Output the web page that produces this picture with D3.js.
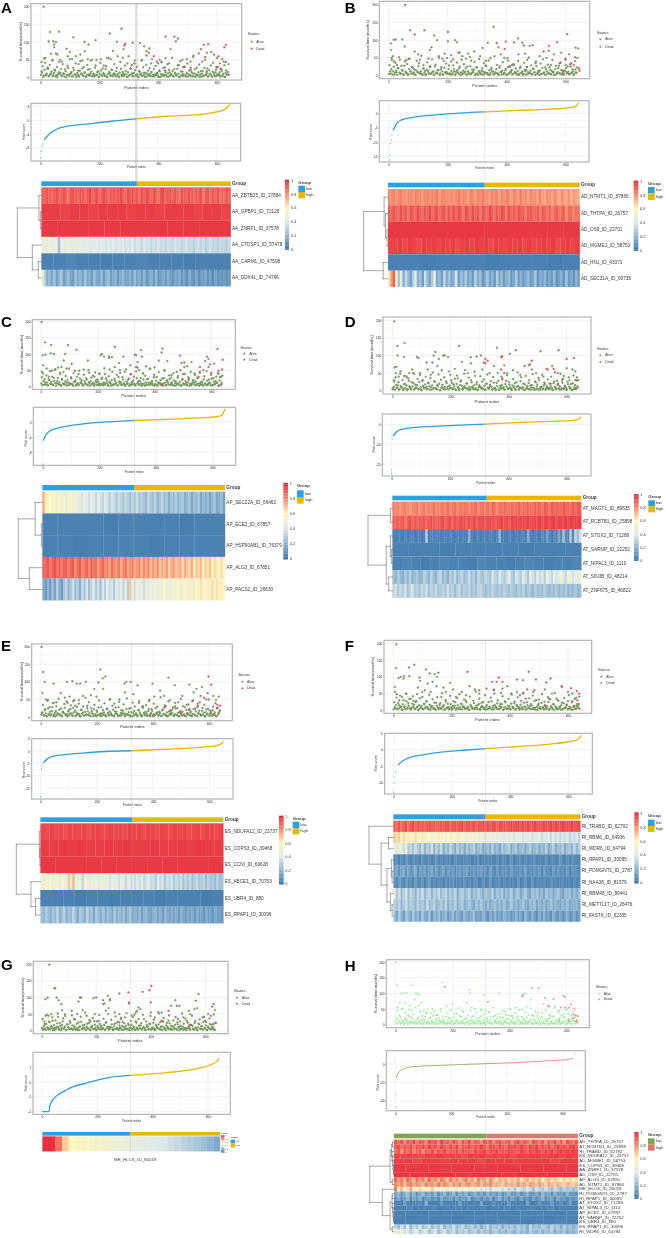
<!DOCTYPE html>
<html><head><meta charset="utf-8">
<script src="https://d3js.org/d3.v7.min.js"></script>
<style>
html,body{margin:0;padding:0;background:#fff;}
svg{display:block;filter:blur(.3px);font-family:"Liberation Sans",Arial,sans-serif;}
</style></head><body><svg id="c" width="666" height="1238"></svg>
<script>
// ---------- DATA (patient index, survival months) ----------
const aliveA=[[10,199],[32,128],[62,129],[111,113],[27,102],[43,102],[52,100],[46,93],[46,85],[88,81],[149,100],[163,93],[187,105],[260,101],[282,80],[313,98],[338,97],[3,44],[12,54],[16,55],[24,28],[35,67],[41,50],[52,68],[57,65],[66,50],[72,45],[92,60],[99,72],[107,52],[120,60],[129,38],[135,65],[142,48],[150,74],[160,52],[170,48],[190,50],[205,52],[215,34],[226,55],[238,52],[246,75],[262,60],[280,56],[295,40],[320,48],[345,50],[352,88],[360,75],[368,70],[376,40],[400,40],[405,50],[412,45],[425,55],[437,40],[442,80],[460,102],[470,35],[482,50],[498,52],[510,45],[520,62],[538,68],[550,45],[565,70],[580,72],[590,65],[600,55],[610,40],[625,35],[630,44]];
const deadA=[[235,124],[275,137],[285,90],[288,95],[310,35],[360,62],[370,82],[385,60],[395,45],[423,20],[425,115],[455,115],[467,110],[485,30],[510,28],[545,80],[560,58],[565,18],[605,60],[617,52],[625,85],[630,92],[640,8],[598,30],[612,25],[570,94],[555,92]];
const lowA=[8,14,3,22,6,11,25,5,9,17,4,13,20,7,2,15,10,24,6,12,3,18,8,27,5,11,16,4,21,9,2,13,7,19,10,26,5,14,3,8,23,6,12,17,4,9,28,7,15,2,11,20,5,13,8,24,3,10,16,6,22,4,12,9,18,7,2,14,25,5,11,8,19,3,15,6,26,10,4,13,21,7,9,2,17,12,5,29,8,14,3,20,6,11,16,4,24,9,7,13,2,18,10,5,27,8,15,3,12,22,6,9,19,4,14,7,25,11,2,17,5,10,30,8,13,3,20,6,16,12,4,24,9,7,15,2,18,11,5,28,8,14,3,21,10,6,17,12,4,23,9,7,15,5,19,11,3,13,8,16];
const midA=[18,32,6,42,10,26,4,36,12,48,7,22,3,30,9,44,14,5,38,11,24,2,33,8,52,13,4,28,10,40,6,20,3,46,12,7,30,15,2,36,9,24,5,50,11,4,34,8,18,3,42,7,26,10,5,32,2,55,13,6,22,9,38,4,28,11,3,44,8,16,5,34,10,2,60,7,25,12,4,40,6,30,3,19,9,48,5,14,2,36,11,7,27,4,52,8,3,33,12,6,20,2,43,10,5,29,7,38,3,15,9,56,4,24,11,6,35,2,46,8,17,5,31,3,40,10,7,22,4,58,12,2,28,6,37,9,3,19,5,50,8,26,4,11,34,2,42,7,15,5,30,10,3,24,6,45,2,20,9,38];
const aliveB=[[56,199],[73,128],[121,128],[154,113],[17,101],[24,102],[46,102],[8,91],[8,72],[54,82],[201,97],[164,100],[225,100],[232,94],[356,138],[336,93],[438,105],[425,94],[488,86],[478,84],[543,70],[642,77],[633,79],[453,93],[10,50],[14,55],[18,40],[28,30],[38,45],[60,44],[68,47],[88,68],[100,60],[106,45],[118,30],[135,48],[140,72],[145,80],[170,55],[182,48],[190,62],[198,50],[212,40],[236,65],[250,55],[262,48],[270,62],[280,42],[290,68],[310,55],[318,78],[330,42],[345,50],[372,80],[380,60],[392,50],[405,42],[418,30],[440,60],[462,62],[470,45],[498,35],[512,55],[535,50],[550,30],[560,60],[585,65],[600,30],[612,60],[640,50]];
const deadB=[[88,116],[201,123],[366,92],[397,96],[393,75],[458,85],[543,84],[571,94],[605,117],[525,68],[241,65],[218,46],[410,25],[580,35],[619,35],[627,30],[645,20],[591,11],[647,14],[468,24],[600,45],[632,52]];
const lowB=[5,12,18,3,25,8,14,2,21,9,6,16,4,28,11,7,2,19,13,5,23,9,3,15,10,27,6,12,4,20,8,2,17,14,5,24,7,11,3,26,9,6,15,2,18,12,4,22,8,10,5,29,3,13,7,19,2,11,16,6,25,9,4,14,8,21,3,12,5,27,7,10,17,2,23,6,13,9,4,20,11,5,28,8,3,15,7,22,12,4,9,18,6,2,26,10,14,5,8,19,3,24,7,11,16,4,30,9,6,13,2,21,8,12,5,17,3,25,10,7,14,4,20,9,2,27,6,11,15,5,22,8,3,18,12,7,24,4,13,9,2,19,6,10,28,5,16,8,3,14,21,7,11,4,26,9,12,5,17,8];
const midB=[30,6,44,12,3,36,9,22,52,5,28,14,2,40,8,33,4,48,11,25,6,18,3,42,10,35,7,56,2,20,13,4,38,9,27,5,46,12,3,31,8,16,50,6,24,2,41,10,34,5,19,7,58,3,29,12,4,37,9,21,2,45,6,32,11,3,26,8,53,4,17,10,39,5,23,2,47,7,14,3,35,9,28,6,43,2,18,12,4,55,8,30,5,22,10,3,38,7,15,2,49,6,27,11,4,33,9,20,3,42,5,25,8,2,36,12,16,4,51,7,29,3,19,10,40,6,13,2,34,5,46,9,24,3,31,7,17,4,44,11,2,28,6,21,8,37,3,15,5,48,10,26,4,32,7,18,2,41,9,23];
const aliveC=[[2,199],[14,136],[35,128],[95,128],[125,113],[6,96],[8,65],[16,98],[34,102],[45,100],[85,100],[80,80],[165,80],[210,96],[215,100],[222,92],[240,92],[240,88],[250,90],[275,72],[330,98],[335,96],[340,75],[352,112],[425,105],[428,117],[415,80],[445,78],[495,72],[530,75],[515,62],[3,45],[20,55],[27,30],[38,48],[48,52],[60,58],[68,42],[72,60],[90,55],[108,70],[120,48],[132,38],[150,52],[170,42],[188,30],[205,40],[225,38],[242,52],[260,60],[278,50],[295,45],[315,65],[345,50],[360,40],[385,55],[400,58],[435,50],[460,35],[478,45],[505,60],[540,40],[560,45],[578,78],[590,60],[610,70],[625,40],[635,30]];
const deadC=[[260,122],[290,92],[318,38],[335,60],[340,58],[355,92],[370,62],[425,5],[490,95],[505,74],[560,60],[572,50],[585,92],[590,85],[595,68],[622,116],[640,82],[625,48],[600,42],[638,52],[555,30],[520,20],[500,38]];
const lowC=[9,4,16,22,6,12,3,19,8,14,5,26,10,2,17,7,13,4,23,9,6,15,3,20,11,5,28,8,2,14,18,6,10,4,24,12,7,3,16,9,21,5,13,2,27,8,11,6,18,4,15,9,3,22,7,12,5,25,10,2,14,8,19,4,6,17,11,3,29,9,13,5,20,7,2,15,10,24,6,4,12,18,8,3,26,11,5,16,9,7,21,2,13,6,23,4,10,14,8,28,3,17,5,12,9,19,7,2,25,11,4,15,6,22,8,13,3,18,10,5,27,7,14,2,20,9,6,16,4,12,24,8,3,11,19,5,15,7,26,2,10,13,6,21,9,4,17,8,12,3,23,5,14,7,30,10,2,18,6,11];
const midC=[28,40,5,12,34,3,22,47,8,30,4,17,52,10,26,6,38,2,20,44,7,32,12,3,55,9,24,5,41,14,2,30,6,48,11,19,3,36,8,25,4,50,10,16,6,33,2,43,12,21,5,38,7,27,3,56,9,18,4,31,11,2,45,6,23,8,35,3,15,42,5,28,10,4,52,7,20,2,37,12,6,30,3,46,9,17,5,26,2,40,8,33,4,22,11,54,6,16,3,36,7,29,2,44,10,5,24,8,48,3,19,12,34,4,27,6,41,2,15,9,32,5,50,3,23,7,38,10,4,28,2,45,6,18,11,35,3,25,8,42,5,14,2,31,7,47,4,21,9,36,3,26,6,16,12,40,2,29,5,33];
const aliveD=[[7,197],[18,127],[42,136],[18,100],[40,96],[8,66],[14,68],[12,50],[90,93],[85,96],[118,80],[138,80],[142,100],[148,110],[160,90],[175,100],[180,100],[192,96],[230,127],[240,82],[270,78],[270,95],[290,97],[305,100],[360,122],[405,105],[385,72],[470,72],[480,60],[510,112],[550,70],[530,62],[600,64],[620,60],[630,55],[5,30],[22,40],[28,55],[40,42],[50,38],[58,50],[68,60],[75,48],[95,50],[105,30],[122,60],[132,45],[155,70],[170,58],[200,45],[215,62],[225,35],[250,58],[260,50],[285,42],[310,60],[335,50],[350,70],[375,40],[395,50],[415,58],[440,45],[455,70],[495,50],[520,40],[570,50],[590,42],[610,30],[635,38]];
const deadD=[[315,80],[320,90],[320,78],[328,85],[375,95],[378,98],[375,60],[385,50],[378,32],[425,115],[480,85],[474,75],[535,60],[572,115],[600,90],[625,93],[560,52],[570,20],[585,30],[640,30],[630,30],[555,62],[545,20]];
const lowD=[6,11,3,17,8,24,4,13,9,2,19,7,15,5,28,10,3,12,21,6,8,16,4,25,9,2,14,7,18,11,5,23,3,10,15,6,27,8,4,13,20,2,9,17,5,11,26,7,3,14,8,22,6,12,4,19,10,2,16,29,5,9,13,7,21,3,11,6,24,8,15,4,18,2,10,12,7,26,5,14,3,20,9,6,17,11,4,23,8,2,13,28,5,10,16,7,3,19,12,6,25,9,4,15,8,21,2,11,14,5,27,7,10,3,18,6,13,22,4,9,16,8,2,24,12,5,30,7,11,3,15,19,6,9,4,20,13,8,2,26,10,5,17,7,12,3,23,6,14,9,4,18,11,8,2,21,5,16,7,13];
const midD=[4,26,38,8,15,3,48,10,30,5,19,42,2,35,12,6,24,50,3,17,9,33,5,44,2,28,11,7,40,4,21,13,36,3,52,8,25,5,16,46,2,31,10,6,38,3,22,12,55,7,29,4,18,34,2,43,9,5,26,14,3,48,8,20,6,37,2,30,11,4,54,7,24,3,16,41,9,5,32,2,19,46,6,12,27,3,39,8,4,22,50,2,14,6,35,10,3,28,44,5,17,7,2,33,12,4,24,52,3,9,38,6,20,2,42,11,5,30,15,3,47,7,26,4,18,36,2,10,45,6,23,3,13,32,8,5,40,2,21,9,4,28,16,3,48,7,34,5,12,2,25,38,6,19,3,43,10,4,29,8];
const aliveE=[[2,199],[8,128],[13,100],[5,68],[45,95],[93,100],[112,102],[128,95],[140,95],[160,100],[205,98],[212,135],[220,110],[230,115],[298,95],[305,100],[320,100],[345,90],[398,95],[455,112],[478,90],[530,92],[555,80],[575,85],[18,50],[25,48],[45,40],[55,42],[70,68],[85,55],[95,40],[102,58],[115,45],[122,32],[135,48],[150,60],[165,32],[178,62],[190,80],[198,58],[222,80],[245,50],[262,38],[280,50],[300,70],[330,65],[350,40],[362,30],[385,45],[405,58],[425,75],[440,60],[460,48],[490,42],[505,60],[520,35],[545,70],[560,38],[590,50],[615,60],[625,48],[635,58]];
const deadE=[[598,115],[608,92],[595,68],[570,60],[582,55],[530,22],[445,30],[462,18],[478,30],[560,32],[618,8],[628,25],[640,32],[630,35],[605,18],[540,45],[390,5],[500,12]];
const lowE=[7,13,4,19,10,2,24,6,15,8,28,3,12,17,5,9,21,7,2,14,11,26,4,8,16,6,23,10,3,13,18,5,29,9,7,2,20,12,4,15,8,25,6,11,3,17,9,22,5,2,14,27,7,10,4,19,13,6,3,24,8,16,11,5,21,2,9,15,7,28,4,12,6,18,10,3,23,8,14,5,26,2,11,17,7,9,4,20,13,6,3,30,8,15,10,5,22,2,12,18,7,4,25,9,14,6,11,3,19,8,27,5,13,2,16,10,7,21,4,9,24,6,12,3,17,8,15,5,28,2,11,7,20,13,4,9,23,6,16,3,10,18,8,5,26,12,2,14,7,22,4,11,9,19,6,13,3,25,8,15];
const midE=[12,34,5,22,3,46,9,28,4,17,40,7,2,31,11,52,6,24,3,15,37,8,44,2,19,10,33,5,26,48,3,13,7,38,2,21,9,30,4,55,6,16,42,3,25,11,2,35,8,18,5,47,3,28,10,6,39,2,22,12,4,50,7,32,3,16,27,9,2,43,5,20,11,36,3,8,53,6,24,2,14,41,4,30,10,3,19,45,7,2,26,12,5,34,3,17,49,8,23,2,38,6,11,29,4,15,56,3,21,9,33,5,2,44,7,18,12,27,3,40,6,25,2,13,52,4,31,8,3,20,10,36,5,16,2,47,7,24,3,28,11,42,4,18,6,35,2,22,9,50,5,14,3,30,7,39,2,26,12,19];
const aliveF=[[10,197],[9,126],[54,128],[72,136],[18,96],[25,100],[35,95],[37,102],[55,102],[90,98],[92,88],[112,122],[118,80],[125,110],[142,108],[150,100],[155,112],[5,70],[6,55],[12,48],[20,30],[30,40],[45,50],[60,35],[70,28],[82,48],[85,68],[100,40],[108,60],[128,55],[135,85],[148,72],[165,40],[172,68],[180,55],[195,82],[205,62],[215,40],[235,55],[250,45],[262,72],[280,62],[295,50],[320,65],[345,62],[370,52],[375,65],[392,72],[405,50],[425,55],[445,90],[435,45],[460,62],[480,55],[500,32],[520,62],[545,50],[560,35],[580,70],[600,55],[615,50],[628,38]];
const deadF=[[255,115],[340,85],[295,60],[345,60],[355,85],[362,98],[375,85],[465,115],[490,92],[485,60],[425,92],[445,50],[455,35],[540,95],[525,83],[578,72],[610,66],[630,58],[638,50],[632,30],[640,5],[600,28],[535,35],[520,15],[620,12]];
const lowF=[3,9,16,5,22,7,12,2,18,10,4,27,8,14,6,3,20,11,5,25,9,2,15,7,13,4,19,6,28,10,3,17,8,12,5,23,2,14,9,6,21,4,11,16,3,26,7,10,5,18,2,13,8,24,6,15,4,9,20,3,12,7,29,5,11,2,17,10,6,22,8,14,3,19,4,9,13,25,7,2,16,5,11,6,27,8,3,15,10,21,4,12,7,18,2,9,24,5,14,6,3,20,11,8,26,4,13,7,2,17,10,5,23,9,3,15,6,12,19,4,8,28,2,11,16,7,5,22,10,3,14,9,6,25,4,13,8,18,2,12,7,30,5,10,15,3,21,6,9,17,4,11,8,24,2,14,5,13,7,19];
const midF=[24,6,38,3,15,44,9,2,30,12,50,5,21,34,3,8,42,17,4,28,11,2,36,7,55,3,19,10,26,5,46,2,13,33,8,4,23,40,3,16,6,52,11,2,31,7,20,3,43,9,5,27,14,2,37,6,48,3,18,10,32,4,24,8,2,41,12,5,29,3,56,7,16,35,2,22,9,4,45,11,3,25,6,38,2,14,50,8,5,30,3,19,10,42,2,27,7,4,34,12,3,47,6,21,2,16,39,9,5,28,3,53,11,2,24,7,36,4,15,44,3,8,31,2,20,10,5,48,6,26,3,13,40,2,33,9,4,18,52,7,3,29,11,2,23,5,37,8,16,3,45,6,2,27,10,34,4,19,12,41];
const aliveG=[[28,199],[46,128],[50,128],[22,100],[14,95],[55,100],[62,92],[72,80],[140,100],[145,100],[135,88],[190,98],[200,100],[225,80],[230,82],[243,105],[250,95],[285,112],[285,50],[320,82],[330,45],[350,60],[355,70],[362,65],[490,92],[430,52],[475,75],[495,75],[505,75],[560,65],[570,68],[575,110],[625,72],[630,80],[635,62],[10,28],[15,45],[25,45],[35,50],[40,30],[60,42],[75,62],[85,50],[110,60],[118,35],[130,50],[150,62],[165,45],[178,28],[195,50],[210,30],[235,60],[245,68],[268,55],[290,35],[305,40],[340,48],[345,55],[375,35],[400,55],[415,40],[440,55],[465,30],[520,40],[540,60],[545,50],[590,40],[610,50]];
const deadG=[[225,92],[250,92],[318,115],[320,85],[370,117],[395,122],[402,135],[400,85],[465,60],[500,35],[565,90],[542,18],[620,45],[600,30],[630,20],[285,25],[440,30]];
const lowG=[8,3,14,6,20,10,4,26,7,12,2,17,9,5,22,11,3,15,8,28,6,13,2,19,10,4,24,7,16,5,11,3,21,9,2,13,27,6,8,18,4,12,7,23,3,10,15,5,29,9,2,14,6,20,11,4,8,17,3,25,7,12,5,10,19,2,13,6,22,9,4,16,8,3,26,11,7,14,5,21,2,10,18,6,12,4,28,9,3,15,7,23,5,11,8,2,17,13,6,20,4,10,24,7,3,14,9,19,5,12,2,27,8,6,16,11,4,22,7,3,13,10,18,5,25,9,2,15,6,12,21,4,8,30,7,11,3,17,14,5,23,9,2,10,19,6,13,4,26,8,16,3,12,7,20,5,11,9,2,24];
const midG=[35,6,20,3,48,9,27,4,14,40,7,2,31,11,52,5,23,3,17,37,8,44,2,19,10,29,5,46,3,13,34,6,2,25,12,42,4,16,8,55,3,21,7,32,2,11,38,5,18,3,28,9,47,4,15,6,36,2,24,10,50,3,12,33,7,2,20,43,5,27,3,9,39,14,2,22,6,53,4,17,8,30,3,41,11,2,25,5,35,7,16,3,48,9,2,28,12,4,21,44,3,6,33,2,18,10,56,5,26,3,13,38,7,2,23,9,46,4,15,3,31,6,41,2,19,11,28,5,52,3,8,36,2,24,12,4,17,45,6,3,29,9,2,21,34,5,14,3,42,7,26,2,11,37,4,18,6,49,3,23];
const aliveH=[[2,199],[6,126],[60,126],[165,135],[20,100],[30,100],[40,102],[72,100],[78,98],[85,95],[260,112],[262,100],[310,95],[365,100],[455,100],[475,80],[8,55],[15,70],[25,50],[35,68],[45,30],[50,60],[58,45],[68,80],[82,60],[92,70],[100,45],[110,40],[125,38],[130,50],[145,30],[160,42],[180,60],[200,65],[215,35],[235,45],[252,70],[268,55],[280,50],[300,48],[315,45],[330,40],[350,30],[372,35],[385,42],[405,28],[425,55],[445,48],[460,58],[480,30],[500,40],[520,65],[540,30],[560,60],[575,45],[590,35],[605,50],[618,30]];
const deadH=[[173,121],[325,73],[445,90],[448,95],[480,116],[503,116],[525,85],[555,82],[535,60],[540,58],[590,92],[595,88],[580,55],[595,55],[610,55],[617,65],[628,50],[625,33],[632,30],[640,27],[635,12],[640,8],[575,15],[625,20],[608,12]];
const lowH=[10,3,16,7,24,5,12,2,19,8,14,4,27,9,6,20,11,3,15,5,22,8,2,13,17,6,25,4,10,7,18,3,12,29,5,9,14,2,21,6,11,8,16,4,26,3,13,7,19,10,2,23,5,15,9,6,28,4,12,8,17,3,20,7,11,2,14,24,5,10,6,18,3,13,9,27,4,15,7,2,21,11,5,16,8,3,25,12,6,19,10,4,14,2,22,7,9,17,5,30,3,13,8,20,6,11,4,26,15,2,10,7,18,3,12,23,5,9,16,6,2,28,14,8,4,19,11,3,24,7,13,5,17,10,2,21,6,12,4,27,9,15,3,8,20,5,11,7,25,2,14,6,18,10,3,22,13,4,9,16];
const midH=[22,44,8,30,3,52,12,5,38,16,2,47,9,26,4,33,7,55,3,20,11,41,5,28,2,14,36,8,49,3,24,10,6,43,2,18,31,5,13,50,3,27,9,2,37,6,22,4,46,12,3,34,7,16,2,53,10,25,4,40,3,19,8,30,2,45,6,13,28,3,38,11,5,21,2,48,7,33,3,17,10,42,4,26,2,55,9,15,5,35,3,23,7,44,2,12,30,6,18,3,50,8,27,4,36,2,20,11,47,5,25,3,14,39,7,2,31,9,52,4,17,3,43,6,28,2,10,22,37,5,3,46,12,19,2,33,7,26,4,54,3,15,40,8,2,29,5,21,10,48,3,35,6,16,2,42,11,24,4,30];
// ---------- DATA (ordered risk score) ----------
const curveA=[[12,-5.7],[32,-3.8],[54,-2.6],[88,-1.8],[156,-1.1],[247,-.2],[325,.4],[429,1.2],[542,1.7],[599,2.5],[627,3.2],[638,4.2],[644,4.6]];
const tailA=[[0,-11],[2,-9.1],[5,-7.6],[7,-6.9]];
const curveB=[[15,-6],[26,-3.7],[43,-2.3],[82,-1.4],[150,-.6],[241,.1],[325,.5],[433,1],[546,1.5],[614,2],[636,2.6],[644,3.8]];
const tailB=[[3,-16.3],[3,-14.7],[6,-10.5],[9,-9.3],[11,-7.6]];
const curveC=[[1,-5],[7,-3.9],[21,-2.6],[48,-1.7],[84,-1.1],[154,-.4],[249,.1],[323,.4],[437,.7],[555,1.1],[614,1.4],[634,1.8],[641,2.8],[645,3.5]];
const tailC=[[0,-11.2]];
const curveD=[[5,-5.8],[16,-3.7],[33,-2.4],[73,-1.5],[142,-.9],[233,-.2],[322,.3],[427,1],[542,1.7],[622,2.2],[642,2.9],[649,4.1]];
const tailD=[[0,-24.9],[0,-23.2],[2,-7.3]];
const curveE=[[9,-4.8],[24,-3.2],[45,-2.1],[93,-1.4],[164,-.7],[247,-.1],[324,.1],[448,.7],[567,1.5],[626,2.2],[644,3],[649,4]];
const tailE=[[0,-18.5],[3,-7.1],[6,-5.8]];
const curveF=[[15,-4.7],[32,-3.4],[55,-2.4],[101,-1.6],[170,-.7],[250,-.1],[316,.3],[422,.9],[536,1.7],[605,2.5],[633,3.2],[645,4.4]];
const tailF=[[0,-13],[1,-10.2],[2,-8.3],[6,-6.8]];
const curveG=[[0,-2.02],[25,-2.02],[29,-1.57],[47,-1.05],[77,-.66],[113,-.32],[161,-.07],[246,.32],[319,.45],[451,.64],[547,.86],[607,1.16],[631,1.39],[640,1.61]];
const tailG=[[643,1.82]];
const curveH=[[2,-15.7],[10,-10.2],[27,-5.8],[63,-2.9],[135,-1.8],[231,-.7],[324,.4],[434,1.5],[553,3.6],[613,4.7],[637,6.2]];
const tailH=[[0,-47.4],[1,-32.8],[643,11.7]];
// ---------- DATA (gene labels, PSI in percent by ordered patient) ----------
const genesA=["AA_ZBTB25_ID_27884","AA_GPBP1_ID_72126","AA_ZNRF1_ID_37578","AA_CTDSP1_ID_57478","AA_CARM1_ID_47598","AA_DDX41_ID_74796"];
const heatA=[
[91,89,93,90,87,92,94,88,91,93,89,86,92,94,90,88,93,91,87,92,95,89,91,93,88,90,94,92,87,91,93,89,92,95,90,88,93,91,94,89,92,87,93,90,94,91,88,93,90,86,92,95,89,91,93,88,92,90,85,93,91,88,94,90,87,92,89,93,84,90,92,87,91,88,93,85,90,87,92,89],
[97,97,96,97,97,96,97,97,97,96,97,97,96,97,97,97,96,97,97,96],
[98,98,98,98,98,98,98,98,98,98,98,98],
[47,47,46,47,46,46,45,24,44,45,43,44,45,42,44,43,42,44,41,43,40,42,41,43,39,41,42,38,41,39,42,37,40,38,41,36,39,38,40,35,39,37,34,39,36,38,33,37,35,38,34,36,32,37,35,33,38,34,36,32,35,37,33,35,31,34,36,32,35,30,34,36,32,34,30,35,31,33,30,34],
[4,4,5,4,4,3,4,4,5,4,4,4,3,4,4,4],
[50,30,18,22,16,24,14,20,26,13,18,22,15,12,24,17,20,13,26,15,18,12,22,16,14,21,12,19,24,13,16,20,11,17,22,13,15,19,11,23,14,17,12,20,10,15,18,12,21,10,14,17,11,19,13,9,16,12,18,10,14,8,16,12,10,15,8,13,11,16,9,12,7,14,10,12,8,13,9,11],
];
const treeA=[1,[.1,0,[.04,1,2]],[.375,3,[.125,4,5]]];
const genesB=["AD_NTMT1_ID_87866","AD_THTPA_ID_26757","AD_OS9_ID_22701","AD_MGME1_ID_58753","AD_HN1_ID_43371","AD_SEC31A_ID_69735"];
const heatB=[
[81,80,82,79,81,83,80,78,82,81,79,83,80,82,78,81,83,79,82,80,84,78,81,83,80,79,82,78,81,84,79,82,80,77,83,81,78,82,80,84,79,81,77,83,80,82,78,81,79,83,80,77,82,80,78,83,79,81,76,82,79,80,77,82,78,75,81,79,76,82,78,74,80,77,75,79,73,78,76,74],
[91,88,93,90,87,94,89,92,86,93,90,88,94,91,86,92,89,95,88,91,93,87,90,94,86,92,89,93,88,95,90,86,93,91,87,94,89,92,85,93,90,88,95,91,86,92,88,94,90,85,93,89,91,86,94,88,92,84,90,93,87,89,91,83,92,88,86,90,82,89,91,85,88,90,80,87,89,83,86,88],
[98,98,98,98,98,98,98,98,98,98,98,98],
[96,96,97,95,97,96,94,97,96,97,95,97,96,97,94,96,97,95,97,96,97,94,97,96,95,97,96,97,94,97,95,96,97,95,97,94,96,97,95,97],
[4,4,3,4,4,4,3,4,4,4,3,4],
[62,78,90,56,26,44,18,34,22,14,30,42,18,24,12,36,20,15,28,46,16,22,13,32,18,26,14,20,38,12,24,16,28,14,20,12,30,18,24,11,16,26,14,20,10,30,15,22,12,18,24,11,16,28,13,20,10,17,23,12,15,26,10,18,13,22,9,16,12,20,9,14,18,10,24,12,16,9,20,13],
];
const treeB=[1,[.16,0,[.1,1,[.04,2,3]]],[.2,4,5]];
const genesC=["AP_SEC22A_ID_66462","AP_ECE2_ID_67857","AP_HSP90AB1_ID_76379","AP_ALG3_ID_67851","AP_PACS2_ID_26630"];
const heatC=[
[76,62,56,60,54,58,52,56,50,54,48,52,56,46,50,44,48,38,46,42,36,44,40,34,42,38,32,40,36,30,38,34,28,36,32,26,34,30,24,32,28,36,24,30,26,22,32,28,24,30,20,26,32,22,28,18,26,22,30,20,24,28,18,22,26,16,24,20,28,16,22,18,24,14,20,26,16,18,22,14],
[4,4,4,4,3,4,4,4,4,3,4,4],
[4,4,3,4,4,4,4,3,4,4,4,4],
[90,88,92,86,90,93,87,91,85,89,92,84,88,91,83,87,90,82,86,89,80,92,84,87,78,85,88,80,84,76,86,82,78,85,74,82,86,76,80,84,74,78,83,72,80,76,82,70,78,74,80,68,76,72,78,66,74,78,68,72,76,64,74,70,66,74,62,70,66,72,60,68,64,70,60,66,62,58,66,60],
[16,12,20,10,24,14,30,18,12,26,32,20,28,36,22,30,18,34,26,38,24,32,42,28,36,24,40,30,44,34,38,28,42,36,46,32,40,30,70,44,38,50,42,46,36,48,40,52,44,50,42,54,46,58,48,52,44,56,50,60,46,54,58,50,62,54,48,60,56,64,52,58,62,54,66,58,64,56,62,60],
];
const treeC=[1,[.3,0,[.04,1,2]],[.54,3,4]];
const genesD=["AT_MAGT1_ID_89535","AT_RCBTB1_ID_25898","AT_STOX2_ID_71289","AT_SARNP_ID_22252","AT_NIPAL3_ID_1110","AT_SIN3B_ID_48214","AT_ZNF675_ID_46822"];
const heatD=[
[84,80,83,78,82,85,80,77,83,81,84,79,82,85,80,83,81,86,80,84,82,85,83,87,81,84,86,82,85,83,87,84,81,86,84,88,82,85,87,83,86,84,88,85,83,87,85,89,84,86,88,85,87,90,84,88,86,89,87,85,90,87,89,86,91,88,86,90,88,91,87,89,92,88,90,87,91,89,92,90],
[90,88,91,89,92,87,90,93,89,91,88,92,90,93,89,91,94,90,88,92,91,94,90,92,95,89,93,91,94,92,95,90,93,92,95,91,94,93,96,92,94,96,93,91,95,94,96,93,95,92,96,94,97,93,95,96,94,97,95,93,96,95,97,94,96,97,95,96,97,94,96,97,95,97,96,97,95,97,96,97],
[4,3,4,4,3,4,3,5,4,3,4,4,3,4,28,3,4,4,5,3,4,4,3,4,5,3,4,4,3,5,3,4,20,4,3,4,5,3,4,4,3,4,5,3,4,22,3,4,3,5,4,3,4,3,6,4,3,18,4,3,5,4,3,6,4,14,5,3,7,4,16,5,24,8,5,28,6,32,24,36],
[4,4,4,3,4,4,4,4,3,4,4,4],
[4,5,4,3,4,5,4,4,3,5,4,4,3,4,5,4,3,4,4,5],
[24,20,28,22,18,26,21,30,19,24,28,18,22,30,25,20,31,24,20,28,33,22,26,19,30,24,34,21,28,32,22,26,36,24,30,21,33,27,24,35,29,25,38,31,27,40,33,28,36,42,30,26,38,33,29,41,35,28,43,37,31,45,34,40,30,46,38,33,47,36,42,48,38,34,50,44,38,46,42,48],
[32,36,28,34,29,37,26,33,38,28,31,25,34,29,36,26,31,27,34,24,29,32,25,36,27,31,24,29,34,25,30,27,33,24,29,26,31,34,27,24,29,25,32,27,23,29,25,31,27,24,30,26,22,29,25,31,23,28,26,21,29,24,27,22,30,25,20,27,23,28,21,26,23,28,20,25,22,27,21,24],
];
const treeD=[1,[.08,0,1],[.25,[.08,2,[.03,3,4]],[.15,5,6]]];
const genesE=["ES_NDUFA12_ID_23737","ES_COPS3_ID_39468","ES_CCNI_ID_69628","ES_ABCE1_ID_70753","ES_UBR4_ID_880","ES_RPAP1_ID_30096"];
const heatE=[
[95,94,96,94,95,93,96,95,94,96,93,95,96,94,95,96,94,95,93,96,95,96,94,96,95,93,96,95,94,96,95,96,93,95,96,94,96,95,94,96],
[97,97,98,97,98,97,97,98,97,98,97,97,98,97,97,98,97,98,97,97],
[98,98,98,98,98,98,98,98,98,98,98,98],
[50,46,56,48,60,44,52,54,46,58,50,46,70,48,74,52,44,50,32,54,46,42,50,44,48,40,50,46,42,48,38,46,42,44,36,46,40,34,44,38,42,34,40,36,44,32,38,42,34,36,30,40,34,38,28,36,32,38,28,34,30,36,26,32,28,34,24,30,34,26,28,32,24,30,26,28,22,30,24,26],
[4,4,4,3,4,4,3,4,4,4,3,4,4,4,3,4],
[26,20,29,23,18,27,21,31,19,24,29,18,26,21,32,23,17,27,24,19,31,21,26,16,28,22,19,26,17,24,21,15,28,19,23,17,25,15,21,26,17,19,15,23,14,19,21,15,13,18,22,14,19,12,21,16,13,19,14,17,12,20,15,11,18,14,16,11,18,13,15,10,17,12,14,10,16,12,14,10],
];
const treeE=[1,[.04,0,[.02,1,2]],[.39,3,[.2,4,5]]];
const genesF=["RI_TRABD_ID_62792","RI_RBM6_ID_64936","RI_WDR6_ID_64794","RI_RPAP1_ID_30095","RI_POMGNT1_ID_2787","RI_NAA38_ID_81579","RI_RBM48_ID_80441","RI_METTL17_ID_26476","RI_FASTK_ID_62335"];
const heatF=[
[90,87,92,88,90,93,87,91,94,88,92,90,93,87,91,94,89,92,90,88,93,90,92,94,88,91,93,90,92,95,89,92,94,90,93,90,92,91,95,90,93,91,94,92,90,94,92,93,90,92,95,91,93,96,90,94,92,95,91,93,96,92,94,91,95,93,91,96,93,95,92,94,96,93,95,92,96,94,92,95],
[70,64,68,60,66,58,63,56,61,66,54,59,63,52,57,60,50,58,55,62,52,57,53,60,50,55,58,48,53,57,51,46,55,51,48,53,44,51,48,42,51,46,44,49,41,47,44,39,46,42,49,38,44,41,47,37,43,40,46,36,42,39,45,35,41,38,43,34,40,36,42,33,39,36,41,32,38,34,40,31],
[50,40,48,44,36,52,28,34,24,36,28,22,34,20,29,25,37,19,30,23,34,18,27,21,32,25,17,30,21,27,16,29,19,25,31,17,23,27,15,21,25,17,29,19,23,15,27,21,25,30,17,23,28,15,21,26,16,24,29,18,22,27,15,24,20,28,16,23,30,18,25,21,29,17,24,27,20,31,22,28],
[6,9,4,7,5,11,6,4,8,5,7,4,9,6,5,7,4,6,10,5,7,4,8,5,6,4,9,5,7,4,6,9,5,4,7,5,8,4,6,5,8,4,6,5,7,4,8,5,4,6,9,4,6,5,8,4,6,5,7,4,9,5,4,6,5,8,4,7,5,4,6,9,5,4,7,5,8,4,6,5],
[12,16,9,14,18,10,15,9,12,17,8,13,10,15,8,12,17,9,14,8,11,15,8,13,9,14,7,11,14,8,12,15,7,10,13,7,11,14,8,10,7,13,9,7,12,7,10,8,11,7,13,8,10,6,12,8,14,7,10,6,12,8,11,6,13,7,9,6,11,8,12,6,9,7,11,6,10,7,9,6],
[9,5,13,8,5,11,6,9,4,12,7,5,10,4,8,11,5,7,4,10,6,4,9,5,7,11,4,6,8,4,10,5,6,4,9,7,4,5,8,4,6,10,4,7,5,9,4,6,5,8,4,7,5,10,4,6,8,4,5,9,4,7,4,6,8,4,5,10,4,7,5,4,8,5,4,7,4,6,5,7],
[46,28,36,24,30,38,22,34,27,20,32,25,36,22,28,33,20,30,25,35,22,27,32,20,28,24,33,18,27,30,22,25,32,18,27,22,30,24,16,28,23,20,30,18,25,22,28,16,23,20,29,17,24,27,16,22,28,19,15,25,21,27,17,23,15,26,20,24,15,22,27,18,14,24,20,25,16,22,18,24],
[30,25,33,21,28,35,23,30,26,20,32,24,28,21,34,23,27,30,19,25,28,21,32,18,26,23,30,19,25,28,18,23,26,21,16,25,19,28,21,17,25,16,21,26,17,23,19,25,16,21,27,18,23,15,21,26,18,15,23,19,25,15,21,17,24,14,20,26,16,22,18,14,23,18,24,15,20,17,22,15],
[24,15,29,18,13,26,20,15,27,16,22,13,26,18,15,24,11,20,16,25,13,18,22,11,16,24,13,20,15,11,22,16,13,18,25,11,16,13,20,15,9,18,13,22,11,16,13,20,15,18,10,14,21,12,17,9,20,14,11,18,13,8,17,12,20,10,15,8,18,13,10,16,9,14,18,10,12,16,9,14],
];
const treeF=[1,0,[.5,[.2,1,2],[.26,[.08,3,[.05,4,5]],[.12,6,[.05,7,8]]]]];
const genesG=["ME_HLCS_ID_90019"];
const heatG=[[100,100,86,68,60,58,56,55,54,52,50,48,47,45,44,42,41,40,39,36,34,31,29,27,24,20,16]];
const genesH=["AD_THTPA_ID_26757","AT_RCBTB1_ID_25898","RI_TRABD_ID_62792","ES_NDUFA12_ID_23737","AD_MGME1_ID_58753","ES_COPS3_ID_39468","AA_ZNRF1_ID_37578","AD_OS9_ID_22701","AP_ALG3_ID_67851","AD_NTMT1_ID_87866","ME_HLCS_ID_90019","RI_POMGNT1_ID_2787","RI_RPAP1_ID_30095","AT_STOX2_ID_71289","AT_NIPAL3_ID_1110","AP_ECE2_ID_67857","AT_SARNP_ID_22252","ES_UBR4_ID_880","ES_RPAP1_ID_30096","RI_WDR6_ID_64794"];
const heatH=[
[92,86,94,82,93,88,95,85,92,90,80,94,88,92,83,95,87,90,85,94,88,81,92,86,95,83,90,88,78,94,86,92,81,90,94,85,88,92,80,90,93,84,90,87,79,93,89,85,92,80,91,86,94,82,90,78,92,88,84,92],
[91,94,87,92,89,95,85,92,90,94,87,96,88,92,85,95,90,87,94,88,96,85,92,90,95,87,92,88,96,90,85,94,92,88,96,90,87,95,92,94,89,96,91,87,94,90,96,88,93,90,95,87,92,96,90,94,88,93,96,91],
[86,92,80,90,87,94,83,88,92,81,90,87,94,85,92,88,95,87,92,90,94,88,95,90,92,87,95,90,93,96,88,94,92,96,90,94,92,96,94,92,90,96,93,88,95,92,96,94,91,96,93,97,92,95,97,93,96,94,97,95],
[96,95,97,96,94,97,95,97,95,97,96,94,97,95,97,95,97,96,97,94,97,95,97,96,95,97,97,95,97,96],
[97,97,95,97,97,96,97,97,97,95,97,97,97,96,97,97,97,95,97,97],
[98,97,98,98,97,98,98,97,98,98,97,98,98,98,97,98],
[98,98,98,98,97,98,98,98,98,98,98,97,98,98,98,98],
[99,98,99,99,98,99,99,98,99,98,99,99],
[88,78,85,74,90,80,72,87,76,84,70,88,75,82,72,85,78,68,84,73,80,70,76,84,72,78,66,82,73,76,68,80,72,64,76,69,73,66,72,67,76,62,70,74,64,71,66,73,60,68,72,63,70,65,60,68,62,66,60,64],
[81,76,83,73,80,85,75,81,78,72,83,76,80,73,85,75,81,78,70,80,75,83,72,78,81,73,76,80,70,78,75,81,72,76,73,68,78,72,75,70,80,72,76,68,78,74,70,77,72,66,76,73,68,75,70,65,74,70,66,72],
[84,62,72,52,64,74,50,58,66,53,62,48,68,54,46,60,50,44,56,62,42,52,47,58,40,50,45,54,38,48,43,32,46,39,44,35,41,32,37,28,42,36,30,40,34,26,38,32,28,36,30,24,34,28,22,32,26,30,24,28],
[15,21,11,18,24,12,20,9,16,22,11,18,12,21,9,16,20,11,14,22,9,18,12,20,9,14,21,11,16,9,20,12,16,11,18,9,14,20,11,12,18,9,14,20,10,13,17,9,22,12,15,8,18,11,14,9,20,11,13,9],
[10,16,8,13,20,7,15,10,18,7,12,16,8,14,6,18,10,12,15,6,16,8,14,10,20,6,12,15,8,14,10,16,6,12,18,8,14,6,15,10,7,17,9,13,6,15,8,12,19,7,11,14,6,16,9,12,7,14,10,13],
[4,4,3,14,4,3,4,4,5,3,20,4,4,3,4,11,4,3,4,4,3,13,4,4,3,4,5,4,16,3,4,4,9,3,4,4,5,11,3,4,4,5,3,15,4,3,4,9,4,3,5,12,4,3,8,4,6,14,4,7],
[4,4,5,3,4,4,6,3,4,4,5,3,4,4,6,3,4,4,5,3,4,4,6,3,4,5,3,4,4,4],
[4,4,3,4,4,4,3,4,4,4,3,4,4,4,3,4],
[4,3,4,4,4,3,4,4,4,3,4,4,4,3,4,4],
[4,4,4,3,5,4,4,3,4,5,4,3,4,4,5,4],
[32,24,37,27,41,22,34,28,39,25,30,36,23,32,27,37,21,30,25,36,23,28,34,21,27,32,23,30,19,27,34,21,28,25,30,19,27,23,28,21,31,24,28,19,33,23,27,20,29,25,19,31,23,27,18,29,21,26,19,24],
[56,42,50,36,44,30,38,46,28,36,42,26,34,40,24,32,38,25,30,36,22,30,27,34,23,28,32,22,30,25,28,19,27,30,21,25,19,28,23,19,29,22,26,18,30,24,20,27,18,25,22,29,17,24,20,27,16,23,19,25],
];
const treeH=[1,[.16,[.1,[.06,0,1],[.08,2,[.05,3,[.04,4,[.03,5,[.02,6,7]]]]]],[.07,8,9]],[.48,10,[.16,[.08,[.07,11,12],[.05,13,[.04,14,[.03,15,[.02,16,17]]]]],[.07,18,19]]]];
const tickLabels={months:[0,50,100,150,200],patients:[0,200,400,600],legend:[1,.8,.6,.4,.2,0]};
const statusLabels=["Alive","Dead"], groupLabels=["low","high"];
// ---------- LAYOUT: positions are in 3x crop units of each panel's quadrant ----------
const panels=[
{n:"A",ox:0,oy:0,lx:3,ly:40,alive:aliveA,dead:deadA,low:lowA,mid:midA,curve:curveA,tail:tailA,med:325,genes:genesA,heat:heatA,tree:treeA,rt:[4,0,-4,-8],
 s:[93,725,11,240],sx:[122,651],sy:[233,19],leg:[743,103,755,125,769,146],xl:[409,264],yl:[62,125],ml:[409,10,545,8,.3],
 r:[93,722,310,483],rx:[122,651],ry:[361,320],rr:[0,4],rl:[409,500],ryl:[72,395],
 h:[124,692,544,558,562,859],root:52,cb:[855,867,543,749,873],g:[895,548,557,576,595,918]},
{n:"B",ox:333,oy:0,lx:35,ly:38,alive:aliveB,dead:deadB,low:lowB,mid:midB,curve:curveB,tail:tailB,med:325,genes:genesB,heat:heatB,tree:treeB,rt:[0,-5,-10,-15],
 s:[139,770,4,236],sx:[167,698],sy:[227,14],leg:[791,98,802,118,817,140],xl:[455,259],yl:[105,120],ml:[455,4,861,2,.35],
 r:[139,768,302,486],rx:[167,698],ry:[340,383],rr:[0,-5],rl:[455,505],ryl:[114,395],
 h:[165,740,548,562,567,861],root:92,cb:[902,916,546,752,921],g:[945,551,561,580,600,968]},
{n:"C",ox:0,oy:310,lx:3,ly:52,alive:aliveC,dead:deadC,low:lowC,mid:midC,curve:curveC,tail:tailC,med:323,genes:genesC,heat:heatC,tree:treeC,rt:[0,-4,-8],
 s:[97,706,29,238],sx:[123,634],sy:[229,35],leg:[721,113,733,131,748,149],xl:[401,258],yl:[65,133],ml:[403,29,875,2,.35],
 r:[100,707,292,466],rx:[129,637],ry:[336,381],rr:[0,-4],rl:[403,487],ryl:[79,385],
 h:[127,675,525,541,545,871],root:55,cb:[850,864,523,748,869],g:[891,528,541,561,581,915]},
{n:"D",ox:333,oy:310,lx:35,ly:52,alive:aliveD,dead:deadD,low:lowD,mid:midD,curve:curveD,tail:tailD,med:322,genes:genesD,heat:heatD,tree:treeD,rt:[0,-10,-20],
 s:[150,774,21,252],sx:[178,701],sy:[242,31],leg:[791,116,802,136,817,156],xl:[462,275],yl:[118,135],ml:[458,21,865,2,.35],
 r:[148,774,312,498],rx:[176,701],ry:[344,403],rr:[0,-10],rl:[458,518],ryl:[122,403],
 h:[178,745,557,571,575,863],root:105,cb:[903,917,556,752,922],g:[946,561,571,589,607,968]},
{n:"E",ox:0,oy:630,lx:3,ly:62,alive:aliveE,dead:deadE,low:lowE,mid:midE,curve:curveE,tail:tailE,med:324,genes:genesE,heat:heatE,tree:treeE,rt:[5,0,-5,-10,-15],
 s:[95,697,42,272],sx:[123,627],sy:[261,50],leg:[715,134,727,155,741,175],xl:[397,291],yl:[65,155],ml:[395,42,878,2,.35],
 r:[95,699,326,507],rx:[122,628],ry:[363,400],rr:[0,-5],rl:[397,526],ryl:[72,420],
 h:[121,670,562,576,580,880],root:49,cb:[837,851,561,763,856],g:[878,566,575,595,613,901]},
{n:"F",ox:333,oy:630,lx:35,ly:62,alive:aliveF,dead:deadF,low:lowF,mid:midF,curve:curveF,tail:tailF,med:316,genes:genesF,heat:heatF,tree:treeF,rt:[5,0,-5,-10],
 s:[153,776,31,250],sx:[181,705],sy:[241,40],leg:[795,119,805,140,820,159],xl:[463,271],yl:[121,140],ml:[458,31,875,2,.35],
 r:[155,778,310,492],rx:[182,706],ry:[359,408],rr:[0,-5],rl:[464,513],ryl:[128,400],
 h:[181,742,553,568,572,875],root:108,cb:[904,917,551,760,922],g:[945,558,569,588,606,968]},
{n:"G",ox:0,oy:930,lx:3,ly:120,alive:aliveG,dead:deadG,low:lowG,mid:midG,curve:curveG,tail:tailG,med:319,genes:genesG,heat:heatG,tree:null,rt:[1,0,-1,-2],
 s:[100,684,94,311],sx:[125,616],sy:[302,103],leg:[701,182,711,203,726,221],xl:[391,332],yl:[70,203],ml:[391,94,664,2,.35],
 r:[99,691,367,553],rx:[126,624],ry:[456,412],rr:[0,1],rl:[395,572],ryl:[79,460],
 h:[127,660,606,617,619,664],root:0,cb:[663,673,617,667,675],g:[692,622,629,640,652,707],small:1},
{n:"H",ox:333,oy:930,lx:35,ly:122,alive:aliveH,dead:deadH,low:lowH,mid:midH,curve:curveH,tail:tailH,med:324,genes:genesH,heat:heatH,tree:treeH,rt:[0,-20,-40],
 s:[160,769,89,293],sx:[187,700],sy:[284,96],leg:[788,172,798,191,812,208],xl:[464,312],yl:[130,190],ml:[458,89,912,2,.35],
 r:[160,757,362,542],rx:[187,689],ry:[402,457],rr:[0,-20],rl:[458,560],ryl:[135,457],
 h:[183,735,611,625,629,912],root:110,cb:[904,917,610,806,922],g:[945,615,625,643,662,968],
 lowC:"#7ea84c",highC:"#d97b6c",aliveC:"#93ee93",aliveS:"#93ee93",deadC:"#f27f85",thin:1}
];
const heatColor=d3.scaleLinear().domain([0,.2,.4,.6,.8,1]).range(["#3b76a9","#8db4d1","#dfe9e9","#fdf6bd","#f68e6e","#e8303f"]);
const BLUE="#2e9fdf",YEL="#e7b800",INK="#3a3a3a";
const svg=d3.select("#c");
const txt=(g,x,y,s,size,o={})=>g.append("text").attr("x",x).attr("y",y).text(s).attr("font-size",size).attr("fill",o.fill||INK)
  .attr("text-anchor",o.anchor||"start").attr("dominant-baseline",o.base||"middle").attr("font-weight",o.weight||400).attr("transform",o.rot?`rotate(-90 ${x} ${y})`:null);

function frame(g,X,Y,R,x,y,yt,minorY){
  const [l,r,t,b]=[X(R[0]),X(R[1]),Y(R[2]),Y(R[3])];
  const minorX=[100,300,500];
  g.append("g").selectAll("line").data(minorX).join("line").attr("x1",x).attr("x2",x).attr("y1",t).attr("y2",b).attr("stroke","#f1f1f1").attr("stroke-width",.4);
  g.append("g").selectAll("line").data(minorY).join("line").attr("y1",y).attr("y2",y).attr("x1",l).attr("x2",r).attr("stroke","#f1f1f1").attr("stroke-width",.4);
  g.append("g").selectAll("line").data(tickLabels.patients).join("line").attr("x1",x).attr("x2",x).attr("y1",t).attr("y2",b).attr("stroke","#e4e4e4").attr("stroke-width",.5);
  g.append("g").selectAll("line").data(yt).join("line").attr("y1",y).attr("y2",y).attr("x1",l).attr("x2",r).attr("stroke","#e4e4e4").attr("stroke-width",.5);
  const ax=g.append("g").attr("transform",`translate(0,${b})`).call(d3.axisBottom(x).tickValues(tickLabels.patients).tickFormat(String).tickSize(1).tickPadding(.8));
  const ay=g.append("g").attr("transform",`translate(${l},0)`).call(d3.axisLeft(y).tickValues(yt).tickFormat(String).tickSize(1).tickPadding(.8));
  [ax,ay].forEach(a=>{a.select(".domain").remove();a.selectAll("line").attr("stroke","#555").attr("stroke-width",.4);
    a.selectAll("text").attr("font-size",3.2).attr("fill","#222").attr("font-family","inherit");});
  g.append("rect").attr("x",l).attr("y",t).attr("width",r-l).attr("height",b-t).attr("fill","none").attr("stroke","#b4b4b4").attr("stroke-width",1.2);
}
function dendro(g,tree,rowY,xH){
  const seg=[];
  const walk=n=>{ if(typeof n==="number") return {h:0,y:rowY(n)};
    const a=walk(n[1]),b=walk(n[2]),y=(a.y+b.y)/2;
    seg.push([xH(a.h),a.y,xH(n[0]),a.y],[xH(b.h),b.y,xH(n[0]),b.y],[xH(n[0]),a.y,xH(n[0]),b.y]);
    return {h:n[0],y};};
  walk(tree);
  g.append("g").selectAll("line").data(seg).join("line").attr("x1",d=>d[0]).attr("y1",d=>d[1]).attr("x2",d=>d[2]).attr("y2",d=>d[3]).attr("stroke","#6e6e6e").attr("stroke-width",.6).attr("stroke-linecap","square");
}
function draw(p){
  const X=z=>p.ox+z/3,Y=z=>p.oy+z/3,g=svg.append("g");
  const lowC=p.lowC||BLUE,highC=p.highC||YEL,aC=p.aliveC||"#7aa35f",aS=p.aliveS||"#55783f",dC=p.deadC||"#e25a68",dS=p.deadC||"#b8404e";
  const xS=d3.scaleLinear().domain([0,600]).range([X(p.sx[0]),X(p.sx[1])]);
  const yS=d3.scaleLinear().domain([0,200]).range([Y(p.sy[0]),Y(p.sy[1])]);
  frame(g,X,Y,p.s,xS,yS,tickLabels.months,[25,75,125,175]);
  const pts=[...p.low.map((v,i)=>[i*4+1,v,0]),...p.mid.map((v,i)=>[i*4+3,v,0]),...p.alive.map(d=>[d[0],d[1],0]),...p.dead.map(d=>[d[0],d[1],1])];
  g.append("g").selectAll("circle").data(pts).join("circle").attr("cx",d=>xS(d[0])).attr("cy",d=>yS(d[1])).attr("r",p.thin?.8:.95)
    .attr("fill",d=>d[2]?dC:aC).attr("stroke",d=>d[2]?dS:aS).attr("stroke-width",.3);
  txt(g,X(p.xl[0]),Y(p.xl[1]),"Patient index",4.3,{anchor:"middle"});
  txt(g,X(p.yl[0]),Y(p.yl[1]),"Survival time(months)",4.1,{anchor:"middle",rot:1});
  const L=p.leg;
  txt(g,X(L[0]),Y(L[1]),"Status",4.2);
  [[L[3],statusLabels[0],aC,aS],[L[5],statusLabels[1],dC,dS]].forEach(d=>{
    g.append("circle").attr("cx",X(L[2])).attr("cy",Y(d[0])).attr("r",.8).attr("fill",d[2]).attr("stroke",d[3]).attr("stroke-width",.3);
    txt(g,X(L[4]),Y(d[0]),d[1],3.4);});
  // risk
  const xR=d3.scaleLinear().domain([0,600]).range([X(p.rx[0]),X(p.rx[1])]);
  const yR=d3.scaleLinear().domain(p.rr).range([Y(p.ry[0]),Y(p.ry[1])]);
  const step=Math.abs(p.rr[1]-p.rr[0]);
  frame(g,X,Y,p.r,xR,yR,p.rt,p.rt.slice(1).map(v=>v+step/2));
  const ln=d3.line().x(d=>xR(d[0])).y(d=>yR(d[1])).curve(d3.curveMonotoneX);
  const sw=p.thin?.8:1.3;
  g.append("path").attr("d",ln(p.curve.filter(d=>d[0]<=p.med))).attr("fill","none").attr("stroke",lowC).attr("stroke-width",sw);
  g.append("path").attr("d",ln(p.curve.filter(d=>d[0]>=p.med))).attr("fill","none").attr("stroke",highC).attr("stroke-width",sw);
  g.append("g").selectAll("circle").data(p.tail).join("circle").attr("cx",d=>xR(d[0])).attr("cy",d=>yR(d[1])).attr("r",.55).attr("fill",d=>d[0]<=p.med?lowC:highC);
  txt(g,X(p.rl[0]),Y(p.rl[1]),"Patient index",3.3,{anchor:"middle"});
  txt(g,X(p.ryl[0]),Y(p.ryl[1]),"Risk score",3.5,{anchor:"middle",rot:1});
  // heat
  const H=p.h,hx0=X(H[0]),hx1=X(H[1]),rowB=d3.scaleBand().domain(d3.range(p.genes.length)).range([Y(H[4]),Y(H[5])]);
  const medX=X(H[0])+(X(H[1])-X(H[0]))*p.med/644;
  g.append("rect").attr("x",hx0).attr("y",Y(H[2])).attr("width",medX-hx0).attr("height",Y(H[3])-Y(H[2])).attr("fill",lowC);
  g.append("rect").attr("x",medX).attr("y",Y(H[2])).attr("width",hx1-medX).attr("height",Y(H[3])-Y(H[2])).attr("fill",highC);
  p.heat.forEach((row,i)=>{
    const cell=d3.scaleBand().domain(d3.range(row.length)).range([hx0,hx1]);
    g.append("g").selectAll("rect").data(row).join("rect").attr("x",(d,j)=>cell(j)).attr("y",rowB(i)).attr("width",cell.bandwidth()+.2).attr("height",rowB.bandwidth()+.1).attr("fill",d=>heatColor(d/100));
  });
  if(p.small){
    txt(g,(hx0+hx1)/2+4,Y(689),p.genes[0],4.4,{anchor:"middle"});
  }else{
    p.genes.forEach((s,i)=>txt(g,X(H[1])+1.3,rowB(i)+rowB.bandwidth()/2,s,p.genes.length>15?4.4:4.7));
    txt(g,X(H[1])+1.3,(Y(H[2])+Y(H[3]))/2,"Group",4.7,{weight:700});
  }
  if(p.tree) dendro(g,p.tree,i=>rowB(i)+rowB.bandwidth()/2,d3.scaleLinear().domain([0,1]).range([hx0,X(p.root)]));
  // colour bar
  const C=p.cb,yC=d3.scaleLinear().domain([0,1]).range([Y(C[3]),Y(C[2])]);
  const stops=d3.range(0,1.001,.02);
  g.append("g").selectAll("rect").data(stops).join("rect").attr("x",X(C[0])).attr("width",X(C[1])-X(C[0])).attr("y",d=>yC(d)-(yC(0)-yC(.02))).attr("height",(yC(0)-yC(.02))+.2).attr("fill",d=>heatColor(d));
  const fs=p.small?2:3.9;
  tickLabels.legend.forEach(v=>txt(g,X(C[4]),yC(v),String(v),fs));
  const G=p.g;
  txt(g,X(G[0]),Y(G[1]),"Group",p.small?2.3:4.3,{weight:700});
  const sww=p.small?13:20;
  [[G[2],G[3],lowC,groupLabels[0]],[G[3],G[4],highC,groupLabels[1]]].forEach(d=>{
    g.append("rect").attr("x",X(G[0])).attr("width",sww/3).attr("y",Y(d[0])).attr("height",(d[1]-d[0])/3).attr("fill",d[2]);
    txt(g,X(G[5]),Y((d[0]+d[1])/2),d[3],p.small?2.3:4);});
  if(p.small) txt(g,X(C[0]),Y(611),"Group",2.2,{weight:700});
  // median guide
  const M=p.ml;
  g.append("line").attr("x1",X(M[0])).attr("x2",X(M[0])).attr("y1",Y(M[1])).attr("y2",Y(M[2])).attr("stroke","#9a9a9a").attr("stroke-width",M[3]/3).attr("opacity",M[4]);
  // panel letter
  g.append("text").attr("x",X(p.lx)).attr("y",Y(p.ly)).text(p.n).attr("font-size",15).attr("font-weight",700).attr("fill","#000");
}
panels.forEach(draw);
</script></body></html>
